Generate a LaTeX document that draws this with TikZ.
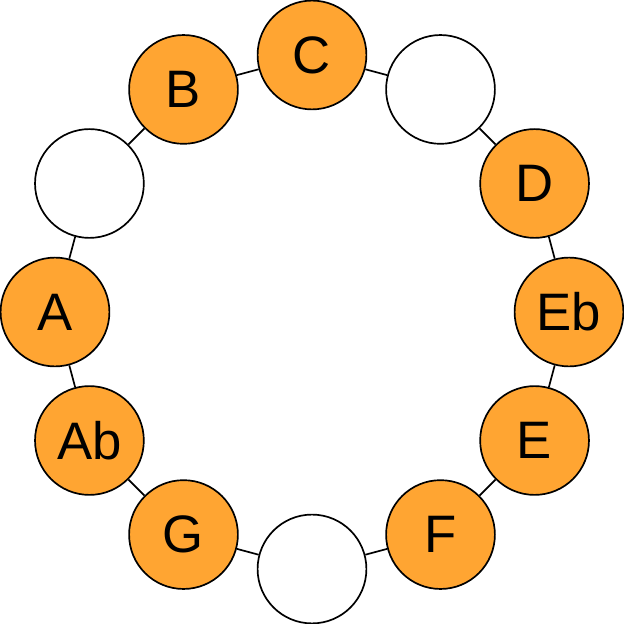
\documentclass[tikz,border=0pt]{standalone}
\usepackage{fontspec}
\setmainfont{Liberation Sans}
\usepackage{tikz}
\usetikzlibrary{positioning}
\definecolor{noteCol}{RGB}{255, 165, 50}
\tikzset{myNote/.style={circle, draw=black, line width=1.2pt, fill=noteCol, minimum size=2.72cm, inner sep=0pt, font=\fontsize{37.5}{40}\selectfont}}
\tikzset{myRest/.style={myNote, fill=white}}
\tikzset{myLink/.style={line width=1.2pt, color=black}}

\begin{document}
\begin{tikzpicture}
	\useasboundingbox (-7.8,-7.8) rectangle (7.8,7.8);
	%\draw[help lines] (0,0) circle [radius=6.425cm];
	\node[myNote] (C)  at (90:6.425cm)   {C};
	\node[myRest] (Cs) at (60:6.425cm)   {};
	\node[myNote] (D)  at (30:6.425cm)   {D};
	\node[myNote] (Eb) at (0:6.425cm)    {Eb};
	\node[myNote] (E)  at (-30:6.425cm)  {E};
	\node[myNote] (F)  at (-60:6.425cm)  {F};
	\node[myRest] (Fs) at (-90:6.425cm)  {};
	\node[myNote] (G)  at (-120:6.425cm) {G};
	\node[myNote] (Ab) at (-150:6.425cm) {Ab};
	\node[myNote] (A)  at (180:6.425cm)  {A};
	\node[myRest] (Bb) at (150:6.425cm)  {};
	\node[myNote] (B)  at (120:6.425cm)  {B};

	\draw[myLink] (C)--(Cs) (Cs)--(D) (D)--(Eb) (Eb)--(E) (E)--(F) (F)--(Fs);
	\draw[myLink] (Fs)--(G) (G)--(Ab) (Ab)--(A) (A)--(Bb) (Bb)--(B) (B)--(C);
\end{tikzpicture}
\end{document}
